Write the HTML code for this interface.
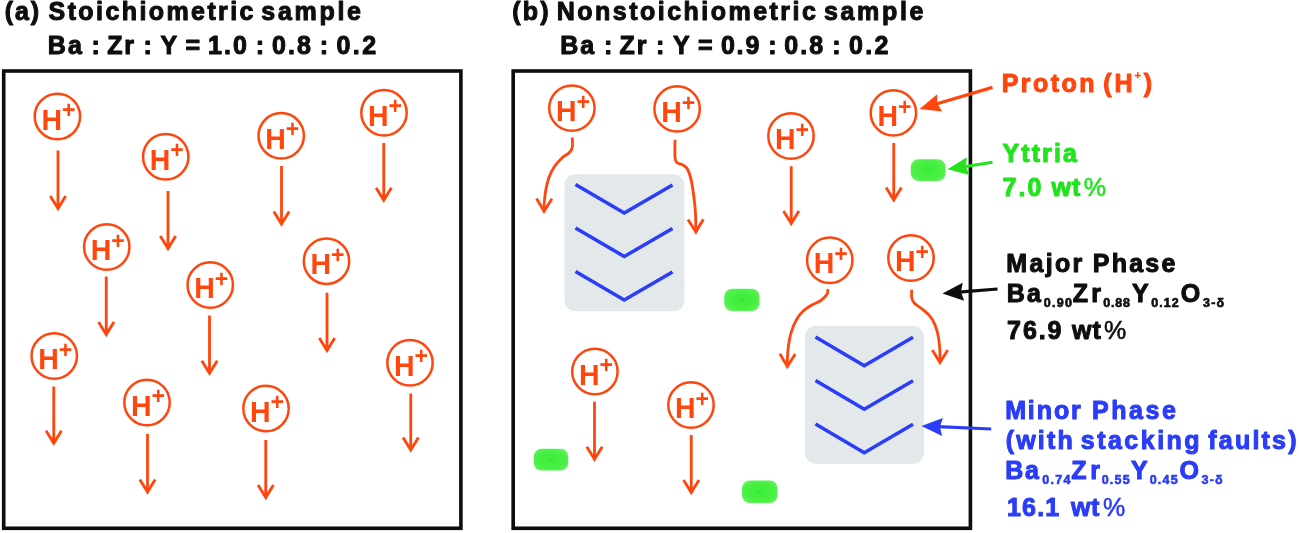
<!DOCTYPE html>
<html><head><meta charset="utf-8"><title>Proton conduction schematic</title>
<style>
html,body{margin:0;padding:0;background:#fff;}
body{width:1299px;height:533px;overflow:hidden;}
svg{display:block;}
text{font-family:"Liberation Sans",Arial,Helvetica,sans-serif;}
.t{font-size:25px;}
.s{font-size:12px;}
.h{font-size:30px;font-weight:bold;}
.p{font-size:23px;font-weight:bold;}
.n{font-weight:normal;}
</style></head><body>
<svg width="1299" height="533" viewBox="0 0 1299 533">
<defs>
<radialGradient id="gg" cx="50%" cy="50%" r="60%">
<stop offset="0" stop-color="#2de628"/><stop offset="0.14" stop-color="#40ee3b"/><stop offset="0.7" stop-color="#48f044"/><stop offset="1" stop-color="#66f462"/>
</radialGradient>
<g id="pr"><circle cx="0" cy="0" r="22.7" fill="none" stroke="#ff4611" stroke-width="2.5"/>
<text class="h" transform="translate(-15.9 13.1) scale(0.95 1)" x="0" y="0" fill="#ff4611">H</text><text class="p" x="4.6" y="1.6" fill="#ff4611">+</text></g>
<filter id="soft" x="0" y="0" width="1299" height="533" filterUnits="userSpaceOnUse"><feGaussianBlur stdDeviation="0.45"/></filter>
<filter id="gsoft" x="-20%" y="-20%" width="140%" height="140%"><feGaussianBlur stdDeviation="0.6"/></filter>
</defs>
<rect width="1299" height="533" fill="#fff"/>
<g filter="url(#soft)">

<rect x="3.7" y="71" width="457.2" height="457.3" fill="none" stroke="#0a0a0a" stroke-width="3.6"/>
<rect x="513.2" y="71" width="457.2" height="457.3" fill="none" stroke="#0a0a0a" stroke-width="3.6"/>
<rect x="564.5" y="174.2" width="120" height="137" rx="11" fill="#e3e8ea"/>
<rect x="805" y="325.8" width="119" height="138" rx="11" fill="#e3e8ea"/>
<polyline points="575.5,184.50 624.25,213.00 672.5,185.00" fill="none" stroke="#2a3cf8" stroke-width="3.5" stroke-linejoin="miter"/>
<polyline points="815.5,337.00 864.25,365.70 913,337.30" fill="none" stroke="#2a3cf8" stroke-width="3.5" stroke-linejoin="miter"/>
<polyline points="575.5,228.00 624.25,256.50 672.5,228.50" fill="none" stroke="#2a3cf8" stroke-width="3.5" stroke-linejoin="miter"/>
<polyline points="815.5,380.50 864.25,409.20 913,380.80" fill="none" stroke="#2a3cf8" stroke-width="3.5" stroke-linejoin="miter"/>
<polyline points="575.5,271.50 624.25,300.00 672.5,272.00" fill="none" stroke="#2a3cf8" stroke-width="3.5" stroke-linejoin="miter"/>
<polyline points="815.5,424.00 864.25,452.70 913,424.30" fill="none" stroke="#2a3cf8" stroke-width="3.5" stroke-linejoin="miter"/>
<rect x="910.75" y="159.25" width="34.75" height="21.75" rx="7.5" fill="url(#gg)" filter="url(#gsoft)"/>
<rect x="724.25" y="288.75" width="35.25" height="22.25" rx="7.5" fill="url(#gg)" filter="url(#gsoft)"/>
<rect x="533.75" y="448.75" width="34.45" height="21.75" rx="7.5" fill="url(#gg)" filter="url(#gsoft)"/>
<rect x="742.00" y="480.50" width="35.50" height="22.50" rx="7.5" fill="url(#gg)" filter="url(#gsoft)"/>
<use href="#pr" x="57.40" y="116.50"/>
<path d="M58.00 150.50 L58.00 207.50 M50.30 195.90 L58.00 208.50 L65.70 195.90" fill="none" stroke="#ff4611" stroke-width="2.8"/>
<use href="#pr" x="165.75" y="156.75"/>
<path d="M168.00 191.00 L168.00 247.50 M160.30 235.90 L168.00 248.50 L175.70 235.90" fill="none" stroke="#ff4611" stroke-width="2.8"/>
<use href="#pr" x="281.20" y="135.80"/>
<path d="M281.50 166.00 L281.50 223.00 M273.80 211.40 L281.50 224.00 L289.20 211.40" fill="none" stroke="#ff4611" stroke-width="2.8"/>
<use href="#pr" x="106.75" y="247.00"/>
<path d="M106.25 276.50 L106.25 333.50 M98.55 321.90 L106.25 334.50 L113.95 321.90" fill="none" stroke="#ff4611" stroke-width="2.8"/>
<use href="#pr" x="210.25" y="285.00"/>
<path d="M209.50 315.50 L209.50 372.25 M201.80 360.65 L209.50 373.25 L217.20 360.65" fill="none" stroke="#ff4611" stroke-width="2.8"/>
<use href="#pr" x="54.25" y="356.00"/>
<path d="M53.75 386.50 L53.75 442.25 M46.05 430.65 L53.75 443.25 L61.45 430.65" fill="none" stroke="#ff4611" stroke-width="2.8"/>
<use href="#pr" x="147.00" y="402.50"/>
<path d="M147.50 434.00 L147.50 491.00 M139.80 479.40 L147.50 492.00 L155.20 479.40" fill="none" stroke="#ff4611" stroke-width="2.8"/>
<use href="#pr" x="266.00" y="408.50"/>
<path d="M265.75 440.00 L265.75 496.50 M258.05 484.90 L265.75 497.50 L273.45 484.90" fill="none" stroke="#ff4611" stroke-width="2.8"/>
<use href="#pr" x="384.00" y="112.75"/>
<path d="M383.75 143.00 L383.75 199.25 M376.05 187.65 L383.75 200.25 L391.45 187.65" fill="none" stroke="#ff4611" stroke-width="2.8"/>
<use href="#pr" x="326.50" y="261.20"/>
<path d="M327.00 292.75 L327.00 349.50 M319.30 337.90 L327.00 350.50 L334.70 337.90" fill="none" stroke="#ff4611" stroke-width="2.8"/>
<use href="#pr" x="410.00" y="362.75"/>
<path d="M410.75 393.50 L410.75 449.00 M403.05 437.40 L410.75 450.00 L418.45 437.40" fill="none" stroke="#ff4611" stroke-width="2.8"/>
<use href="#pr" x="571.90" y="108.10"/>
<use href="#pr" x="677.10" y="108.90"/>
<use href="#pr" x="791.00" y="136.00"/>
<path d="M791.25 166.25 L791.25 222.50 M783.55 210.90 L791.25 223.50 L798.95 210.90" fill="none" stroke="#ff4611" stroke-width="2.8"/>
<use href="#pr" x="893.40" y="112.90"/>
<path d="M893.75 143.00 L893.75 199.00 M886.05 187.40 L893.75 200.00 L901.45 187.40" fill="none" stroke="#ff4611" stroke-width="2.8"/>
<use href="#pr" x="829.75" y="260.25"/>
<use href="#pr" x="911.00" y="258.00"/>
<use href="#pr" x="594.90" y="371.50"/>
<path d="M594.50 401.75 L594.50 458.25 M586.80 446.65 L594.50 459.25 L602.20 446.65" fill="none" stroke="#ff4611" stroke-width="2.8"/>
<use href="#pr" x="691.00" y="405.00"/>
<path d="M691.25 435.00 L691.25 491.50 M683.55 479.90 L691.25 492.50 L698.95 479.90" fill="none" stroke="#ff4611" stroke-width="2.8"/>
<path d="M572.30 137.50 C572.30 139.13 572.78 144.78 572.30 147.30 C571.82 149.82 571.13 150.82 569.40 152.60 C567.67 154.38 564.42 155.65 561.90 158.00 C559.38 160.35 556.47 163.47 554.30 166.70 C552.13 169.93 550.33 173.45 548.90 177.40 C547.47 181.35 546.48 186.08 545.70 190.40 C544.92 194.72 544.48 199.78 544.20 203.30 C543.92 206.82 544.03 210.13 544.00 211.50" fill="none" stroke="#ff4611" stroke-width="2.8" stroke-linecap="butt"/>
<path d="M536.30 198.70 L544.00 211.30 L551.70 198.70" fill="none" stroke="#ff4611" stroke-width="2.8" transform="rotate(1.0 544.00 213.30)"/>
<path d="M675.00 139.70 C675.00 142.67 674.67 153.65 675.00 157.50 C675.33 161.35 675.77 161.58 677.00 162.80 C678.23 164.02 680.70 163.80 682.40 164.80 C684.10 165.80 685.75 166.33 687.20 168.80 C688.65 171.27 690.03 175.28 691.10 179.60 C692.17 183.92 692.88 189.30 693.60 194.70 C694.32 200.10 695.02 205.78 695.40 212.00 C695.78 218.22 695.82 228.67 695.90 232.00" fill="none" stroke="#ff4611" stroke-width="2.8" stroke-linecap="butt"/>
<path d="M688.20 219.40 L695.90 232.00 L703.60 219.40" fill="none" stroke="#ff4611" stroke-width="2.8" transform="rotate(-1.0 695.90 234.00)"/>
<path d="M827.90 288.90 C827.75 289.80 828.18 292.37 827.00 294.30 C825.82 296.23 823.32 298.72 820.80 300.50 C818.28 302.28 814.87 303.22 811.90 305.00 C808.93 306.78 805.53 308.83 803.00 311.20 C800.47 313.57 798.63 315.78 796.70 319.20 C794.77 322.62 792.78 327.23 791.40 331.70 C790.02 336.17 789.07 341.55 788.40 346.00 C787.73 350.45 787.58 354.98 787.40 358.40 C787.22 361.82 787.32 365.15 787.30 366.50" fill="none" stroke="#ff4611" stroke-width="2.8" stroke-linecap="butt"/>
<path d="M779.60 353.90 L787.30 366.50 L795.00 353.90" fill="none" stroke="#ff4611" stroke-width="2.8" transform="rotate(1.0 787.30 368.50)"/>
<path d="M911.70 289.80 C911.70 291.13 911.25 295.57 911.70 297.80 C912.15 300.03 912.77 301.42 914.40 303.20 C916.03 304.98 918.98 306.42 921.50 308.50 C924.02 310.58 927.27 313.02 929.50 315.70 C931.73 318.38 933.42 321.05 934.90 324.60 C936.38 328.15 937.57 332.55 938.40 337.00 C939.23 341.45 939.63 347.05 939.90 351.30 C940.17 355.55 939.98 360.63 940.00 362.50" fill="none" stroke="#ff4611" stroke-width="2.8" stroke-linecap="butt"/>
<path d="M932.30 349.90 L940.00 362.50 L947.70 349.90" fill="none" stroke="#ff4611" stroke-width="2.8" transform="rotate(0.0 940.00 364.50)"/>
<line x1="992.50" y1="87.40" x2="935.43" y2="104.23" stroke="#ff4611" stroke-width="3.20"/>
<path d="M919.60 108.90 L937.20 94.33 L937.34 103.67 L942.29 111.59 Z" fill="#ff4611"/>
<line x1="992.50" y1="162.25" x2="963.80" y2="166.71" stroke="#20e31c" stroke-width="3.20"/>
<path d="M947.50 169.25 L966.87 157.13 L965.78 166.41 L969.63 174.92 Z" fill="#20e31c"/>
<line x1="997.50" y1="289.00" x2="958.95" y2="292.15" stroke="#0a0a0a" stroke-width="3.20"/>
<path d="M942.50 293.50 L962.70 282.82 L960.94 291.99 L964.16 300.76 Z" fill="#0a0a0a"/>
<line x1="991.20" y1="429.00" x2="937.98" y2="426.71" stroke="#2a3cf8" stroke-width="3.20"/>
<path d="M921.50 426.00 L942.87 417.91 L939.98 426.80 L942.09 435.89 Z" fill="#2a3cf8"/>
<text y="20.10" font-size="25" font-weight="bold" fill="#0a0a0a" stroke="#0a0a0a" stroke-width="1.0" stroke-linejoin="round"><tspan x="4.85" letter-spacing="1.80">(a)</tspan><tspan x="48.55" letter-spacing="2.41">Stoichiometric</tspan><tspan x="261.30" letter-spacing="2.71">sample</tspan><tspan x="512.25" letter-spacing="2.25">(b)</tspan><tspan x="556.75" letter-spacing="2.48">Nonstoichiometric</tspan><tspan x="823.90" letter-spacing="2.67">sample</tspan></text>
<text y="54.20" font-size="25" font-weight="bold" fill="#0a0a0a" stroke="#0a0a0a" stroke-width="1.0" stroke-linejoin="round"><tspan x="47.75" letter-spacing="2.15">Ba</tspan><tspan x="91.55" letter-spacing="0.00">:</tspan><tspan x="107.15" letter-spacing="1.85">Zr</tspan><tspan x="143.50" letter-spacing="0.00">:</tspan><tspan x="160.47" letter-spacing="0.00">Y</tspan><tspan x="185.60" letter-spacing="0.00">=</tspan><tspan x="208.00" letter-spacing="2.08">1.0</tspan><tspan x="255.75" letter-spacing="0.00">:</tspan><tspan x="271.90" letter-spacing="2.10">0.8</tspan><tspan x="319.75" letter-spacing="0.00">:</tspan><tspan x="336.50" letter-spacing="2.43">0.2</tspan><tspan x="560.15" letter-spacing="2.15">Ba</tspan><tspan x="603.95" letter-spacing="0.00">:</tspan><tspan x="619.55" letter-spacing="1.85">Zr</tspan><tspan x="655.90" letter-spacing="0.00">:</tspan><tspan x="672.88" letter-spacing="0.00">Y</tspan><tspan x="698.00" letter-spacing="0.00">=</tspan><tspan x="720.90" letter-spacing="1.82">0.9</tspan><tspan x="768.15" letter-spacing="0.00">:</tspan><tspan x="784.30" letter-spacing="2.10">0.8</tspan><tspan x="832.15" letter-spacing="0.00">:</tspan><tspan x="848.90" letter-spacing="2.43">0.2</tspan></text>
<text y="92.00" font-size="25" font-weight="bold" fill="#ff4611" stroke="#ff4611" stroke-width="1.0" stroke-linejoin="round"><tspan x="1001.75" letter-spacing="2.43">Proton</tspan><tspan x="1103.25" letter-spacing="2.90">(H</tspan><tspan x="1143.80" letter-spacing="0.00">)</tspan></text>
<text y="78.60" font-size="11" font-weight="bold" fill="#ff4611" stroke="#ff4611" stroke-width="0.3" stroke-linejoin="round"><tspan x="1134.55" letter-spacing="0.00">+</tspan></text>
<text y="162.00" font-size="25" font-weight="bold" fill="#20e31c" stroke="#20e31c" stroke-width="1.0" stroke-linejoin="round"><tspan x="1002.60" letter-spacing="2.06">Yttria</tspan></text>
<text y="195.60" font-size="25" font-weight="bold" fill="#20e31c" stroke="#20e31c" stroke-width="1.0" stroke-linejoin="round"><tspan x="1002.50" letter-spacing="2.12">7.0</tspan><tspan x="1051.50" letter-spacing="1.10">wt</tspan></text>
<text y="195.60" font-size="25" font-weight="normal" fill="#20e31c" stroke="#20e31c" stroke-width="0.5" stroke-linejoin="round"><tspan x="1083.67" letter-spacing="0.00">%</tspan></text>
<text y="271.70" font-size="25" font-weight="bold" fill="#0a0a0a" stroke="#0a0a0a" stroke-width="1.0" stroke-linejoin="round"><tspan x="1006.35" letter-spacing="2.33">Major</tspan><tspan x="1092.75" letter-spacing="2.25">Phase</tspan></text>
<text y="302.00" font-size="25" font-weight="bold" fill="#0a0a0a" stroke="#0a0a0a" stroke-width="1.0" stroke-linejoin="round"><tspan x="1006.75" letter-spacing="2.25">Ba</tspan><tspan x="1072.75" letter-spacing="3.25">Zr</tspan><tspan x="1132.03" letter-spacing="0.00">Y</tspan><tspan x="1180.75" letter-spacing="0.00">O</tspan></text>
<text y="306.70" font-size="12.5" font-weight="bold" fill="#0a0a0a" stroke="#0a0a0a" stroke-width="0.6" stroke-linejoin="round"><tspan x="1043.75" letter-spacing="1.25">0.90</tspan><tspan x="1103.25" letter-spacing="0.83">0.88</tspan><tspan x="1151.25" letter-spacing="1.00">0.12</tspan><tspan x="1203.00" letter-spacing="1.25">3-δ</tspan></text>
<text y="338.50" font-size="25" font-weight="bold" fill="#0a0a0a" stroke="#0a0a0a" stroke-width="1.0" stroke-linejoin="round"><tspan x="1007.10" letter-spacing="1.88">76.9</tspan><tspan x="1072.10" letter-spacing="0.90">wt</tspan></text>
<text y="338.50" font-size="25" font-weight="normal" fill="#0a0a0a" stroke="#0a0a0a" stroke-width="0.5" stroke-linejoin="round"><tspan x="1104.08" letter-spacing="0.00">%</tspan></text>
<text y="418.60" font-size="25" font-weight="bold" fill="#2a3cf8" stroke="#2a3cf8" stroke-width="1.0" stroke-linejoin="round"><tspan x="1005.15" letter-spacing="1.90">Minor</tspan><tspan x="1091.95" letter-spacing="2.55">Phase</tspan></text>
<text y="448.50" font-size="25" font-weight="bold" fill="#2a3cf8" stroke="#2a3cf8" stroke-width="1.0" stroke-linejoin="round"><tspan x="1005.65" letter-spacing="2.22">(with</tspan><tspan x="1080.80" letter-spacing="2.48">stacking</tspan><tspan x="1208.30" letter-spacing="2.21">faults)</tspan></text>
<text y="478.50" font-size="25" font-weight="bold" fill="#2a3cf8" stroke="#2a3cf8" stroke-width="1.0" stroke-linejoin="round"><tspan x="1005.25" letter-spacing="1.75">Ba</tspan><tspan x="1071.25" letter-spacing="3.75">Zr</tspan><tspan x="1130.88" letter-spacing="0.00">Y</tspan><tspan x="1179.50" letter-spacing="0.00">O</tspan></text>
<text y="483.70" font-size="12.5" font-weight="bold" fill="#2a3cf8" stroke="#2a3cf8" stroke-width="0.6" stroke-linejoin="round"><tspan x="1042.25" letter-spacing="1.25">0.74</tspan><tspan x="1101.75" letter-spacing="1.17">0.55</tspan><tspan x="1149.75" letter-spacing="1.17">0.45</tspan><tspan x="1201.50" letter-spacing="1.25">3-δ</tspan></text>
<text y="515.80" font-size="25" font-weight="bold" fill="#2a3cf8" stroke="#2a3cf8" stroke-width="1.0" stroke-linejoin="round"><tspan x="1007.00" letter-spacing="1.17">16.1</tspan><tspan x="1070.90" letter-spacing="0.70">wt</tspan></text>
<text y="515.80" font-size="25" font-weight="normal" fill="#2a3cf8" stroke="#2a3cf8" stroke-width="0.5" stroke-linejoin="round"><tspan x="1102.88" letter-spacing="0.00">%</tspan></text>
</g>
</svg></body></html>
